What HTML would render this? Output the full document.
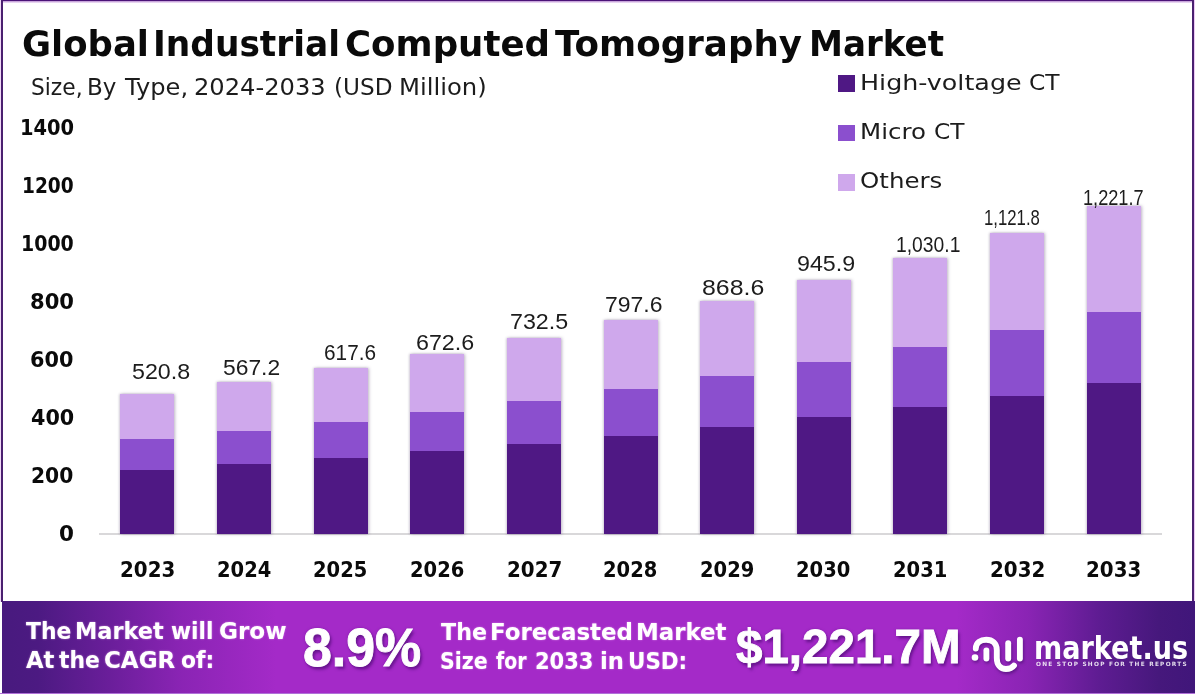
<!DOCTYPE html>
<html lang="en"><head><meta charset="utf-8">
<title>Global Industrial Computed Tomography Market</title>
<style>
html,body{margin:0;padding:0;background:#fff;}
body{width:1195px;height:694px;position:relative;overflow:hidden;font-family:"DejaVu Sans", "Liberation Sans", sans-serif;color:#111;}
.abs{position:absolute;}
.t{position:absolute;white-space:nowrap;line-height:1;}
.b{font-weight:bold;}
.seg{position:absolute;left:0;width:100%;}
.bar{position:absolute;box-shadow:1px 0 3px rgba(90,70,110,.4),-1px 0 2px rgba(90,70,110,.2);}
</style></head><body>

<div class="abs" style="left:0;top:0;width:1195px;height:1.3px;background:#4b1478;"></div>
<div class="abs" style="left:3px;top:1.3px;width:1189px;height:1.4px;background:linear-gradient(180deg,#b98fd0,#f6eafa);"></div>
<div class="abs" style="left:1px;top:0;width:2px;height:602px;background:#4a2070;"></div>
<div class="abs" style="left:1192px;top:0;width:2px;height:602px;background:#4a2070;"></div>
<div class="abs" style="left:1194px;top:0;width:1px;height:602px;background:#ecc8f4;"></div>
<div class="abs" style="left:0;top:0;width:1px;height:602px;background:#f0d8f6;"></div>
<div class="t b" style="left:22.20px;top:26.30px;font-size:35.60px;color:#0a0a0a;transform-origin:0 0;transform:scaleX(0.9958);">Global</div>
<div class="t b" style="left:153.00px;top:26.30px;font-size:35.60px;color:#0a0a0a;transform-origin:0 0;transform:scaleX(0.9666);">Industrial</div>
<div class="t b" style="left:345.40px;top:26.30px;font-size:35.60px;color:#0a0a0a;transform-origin:0 0;transform:scaleX(1.0002);">Computed</div>
<div class="t b" style="left:555.00px;top:26.30px;font-size:35.60px;color:#0a0a0a;transform-origin:0 0;transform:scaleX(1.0024);">Tomography</div>
<div class="t b" style="left:809.12px;top:26.30px;font-size:35.60px;color:#0a0a0a;transform-origin:0 0;transform:scaleX(0.9594);">Market</div>
<div class="t" style="left:30.85px;top:76.30px;font-size:23.00px;color:#1c1c1c;transform-origin:0 0;transform:scaleX(0.9461);">Size,</div>
<div class="t" style="left:87.40px;top:76.30px;font-size:23.00px;color:#1c1c1c;transform-origin:0 0;transform:scaleX(1.0008);">By</div>
<div class="t" style="left:124.75px;top:76.30px;font-size:23.00px;color:#1c1c1c;transform-origin:0 0;transform:scaleX(1.0497);">Type,</div>
<div class="t" style="left:194.15px;top:76.30px;font-size:23.00px;color:#1c1c1c;transform-origin:0 0;transform:scaleX(1.0503);">2024-2033</div>
<div class="t" style="left:333.79px;top:76.30px;font-size:23.00px;color:#1c1c1c;transform-origin:0 0;transform:scaleX(1.0070);">(USD</div>
<div class="t" style="left:398.79px;top:76.30px;font-size:23.00px;color:#1c1c1c;transform-origin:0 0;transform:scaleX(1.0562);">Million)</div>
<div class="abs" style="left:838px;top:75.0px;width:16.5px;height:16.5px;background:#4f1884;"></div>
<div class="t" style="left:859.89px;top:71.60px;font-size:22.00px;color:#1c1c1c;transform-origin:0 0;transform:scaleX(1.1536);">High-voltage</div>
<div class="t" style="left:1029.34px;top:71.60px;font-size:22.00px;color:#1c1c1c;transform-origin:0 0;transform:scaleX(1.0613);">CT</div>
<div class="abs" style="left:838px;top:124.5px;width:16.5px;height:16.5px;background:#8b4fce;"></div>
<div class="t" style="left:859.97px;top:120.60px;font-size:22.00px;color:#1c1c1c;transform-origin:0 0;transform:scaleX(1.1136);">Micro</div>
<div class="t" style="left:933.94px;top:120.60px;font-size:22.00px;color:#1c1c1c;transform-origin:0 0;transform:scaleX(1.0578);">CT</div>
<div class="abs" style="left:838px;top:174.0px;width:16.5px;height:16.5px;background:#cfa8ec;"></div>
<div class="t" style="left:860.49px;top:169.70px;font-size:22.00px;color:#1c1c1c;transform-origin:0 0;transform:scaleX(1.1136);">Others</div>
<div class="t b" style="left:58.88px;top:523.50px;font-size:21.00px;color:#0a0a0a;transform-origin:0 0;transform:scaleX(1.0231);">0</div>
<div class="t b" style="left:31.43px;top:465.57px;font-size:21.00px;color:#0a0a0a;transform-origin:0 0;transform:scaleX(0.9663);">200</div>
<div class="t b" style="left:30.60px;top:407.64px;font-size:21.00px;color:#0a0a0a;transform-origin:0 0;transform:scaleX(0.9856);">400</div>
<div class="t b" style="left:30.41px;top:349.71px;font-size:21.00px;color:#0a0a0a;transform-origin:0 0;transform:scaleX(0.9900);">600</div>
<div class="t b" style="left:29.80px;top:291.78px;font-size:21.00px;color:#0a0a0a;transform-origin:0 0;transform:scaleX(1.0042);">800</div>
<div class="t b" style="left:20.99px;top:233.85px;font-size:21.00px;color:#0a0a0a;transform-origin:0 0;transform:scaleX(0.9027);">1000</div>
<div class="t b" style="left:22.03px;top:175.92px;font-size:21.00px;color:#0a0a0a;transform-origin:0 0;transform:scaleX(0.8847);">1200</div>
<div class="t b" style="left:19.65px;top:117.99px;font-size:21.00px;color:#0a0a0a;transform-origin:0 0;transform:scaleX(0.9259);">1400</div>
<div class="abs" style="left:99px;top:533.4px;width:1063px;height:2px;background:#d9d8da;"></div>
<div class="bar" style="left:120.3px;top:394.3px;width:54px;height:139.7px;"><div class="seg" style="top:0;height:45.5px;background:#cfa8ec;"></div><div class="seg" style="top:45.0px;height:31.0px;background:#8b4fce;"></div><div class="seg" style="top:75.5px;height:64.3px;background:#4f1884;"></div></div>
<div class="t b" style="left:119.97px;top:560.30px;font-size:21.00px;color:#0a0a0a;transform-origin:0 0;transform:scaleX(0.9456);">2023</div>
<div class="t" style="left:132.40px;top:360.80px;font-size:22.00px;color:#1c1c1c;transform-origin:0 0;transform:scaleX(1.0562);font-family:'Liberation Sans',sans-serif;">520.8</div>
<div class="bar" style="left:217.0px;top:381.8px;width:54px;height:152.2px;"><div class="seg" style="top:0;height:49.5px;background:#cfa8ec;"></div><div class="seg" style="top:49.0px;height:33.7px;background:#8b4fce;"></div><div class="seg" style="top:82.2px;height:70.0px;background:#4f1884;"></div></div>
<div class="t b" style="left:216.63px;top:560.30px;font-size:21.00px;color:#0a0a0a;transform-origin:0 0;transform:scaleX(0.9290);">2024</div>
<div class="t" style="left:223.10px;top:356.50px;font-size:22.00px;color:#1c1c1c;transform-origin:0 0;transform:scaleX(1.0380);font-family:'Liberation Sans',sans-serif;">567.2</div>
<div class="bar" style="left:313.6px;top:368.3px;width:54px;height:165.7px;"><div class="seg" style="top:0;height:53.9px;background:#cfa8ec;"></div><div class="seg" style="top:53.4px;height:36.6px;background:#8b4fce;"></div><div class="seg" style="top:89.5px;height:76.2px;background:#4f1884;"></div></div>
<div class="t b" style="left:313.27px;top:560.30px;font-size:21.00px;color:#0a0a0a;transform-origin:0 0;transform:scaleX(0.9290);">2025</div>
<div class="t" style="left:324.25px;top:341.80px;font-size:22.00px;color:#1c1c1c;transform-origin:0 0;transform:scaleX(0.9458);font-family:'Liberation Sans',sans-serif;">617.6</div>
<div class="bar" style="left:410.2px;top:353.5px;width:54px;height:180.5px;"><div class="seg" style="top:0;height:58.6px;background:#cfa8ec;"></div><div class="seg" style="top:58.1px;height:39.8px;background:#8b4fce;"></div><div class="seg" style="top:97.4px;height:83.0px;background:#4f1884;"></div></div>
<div class="t b" style="left:409.91px;top:560.30px;font-size:21.00px;color:#0a0a0a;transform-origin:0 0;transform:scaleX(0.9290);">2026</div>
<div class="t" style="left:416.24px;top:332.40px;font-size:22.00px;color:#1c1c1c;transform-origin:0 0;transform:scaleX(1.0573);font-family:'Liberation Sans',sans-serif;">672.6</div>
<div class="bar" style="left:506.9px;top:337.5px;width:54px;height:196.5px;"><div class="seg" style="top:0;height:63.8px;background:#cfa8ec;"></div><div class="seg" style="top:63.3px;height:43.3px;background:#8b4fce;"></div><div class="seg" style="top:106.1px;height:90.4px;background:#4f1884;"></div></div>
<div class="t b" style="left:506.53px;top:560.30px;font-size:21.00px;color:#0a0a0a;transform-origin:0 0;transform:scaleX(0.9456);">2027</div>
<div class="t" style="left:509.74px;top:311.00px;font-size:22.00px;color:#1c1c1c;transform-origin:0 0;transform:scaleX(1.0573);font-family:'Liberation Sans',sans-serif;">732.5</div>
<div class="bar" style="left:603.5px;top:320.0px;width:54px;height:214.0px;"><div class="seg" style="top:0;height:69.4px;background:#cfa8ec;"></div><div class="seg" style="top:68.9px;height:47.2px;background:#8b4fce;"></div><div class="seg" style="top:115.6px;height:98.4px;background:#4f1884;"></div></div>
<div class="t b" style="left:603.19px;top:560.30px;font-size:21.00px;color:#0a0a0a;transform-origin:0 0;transform:scaleX(0.9290);">2028</div>
<div class="t" style="left:605.16px;top:293.50px;font-size:22.00px;color:#1c1c1c;transform-origin:0 0;transform:scaleX(1.0443);font-family:'Liberation Sans',sans-serif;">797.6</div>
<div class="bar" style="left:700.2px;top:301.0px;width:54px;height:233.0px;"><div class="seg" style="top:0;height:75.5px;background:#cfa8ec;"></div><div class="seg" style="top:75.0px;height:51.3px;background:#8b4fce;"></div><div class="seg" style="top:125.8px;height:107.2px;background:#4f1884;"></div></div>
<div class="t b" style="left:699.83px;top:560.30px;font-size:21.00px;color:#0a0a0a;transform-origin:0 0;transform:scaleX(0.9290);">2029</div>
<div class="t" style="left:701.50px;top:276.50px;font-size:22.00px;color:#1c1c1c;transform-origin:0 0;transform:scaleX(1.1310);font-family:'Liberation Sans',sans-serif;">868.6</div>
<div class="bar" style="left:796.8px;top:280.2px;width:54px;height:253.8px;"><div class="seg" style="top:0;height:82.2px;background:#cfa8ec;"></div><div class="seg" style="top:81.7px;height:55.8px;background:#8b4fce;"></div><div class="seg" style="top:137.0px;height:116.7px;background:#4f1884;"></div></div>
<div class="t b" style="left:796.47px;top:560.30px;font-size:21.00px;color:#0a0a0a;transform-origin:0 0;transform:scaleX(0.9290);">2030</div>
<div class="t" style="left:796.94px;top:253.30px;font-size:22.00px;color:#1c1c1c;transform-origin:0 0;transform:scaleX(1.0573);font-family:'Liberation Sans',sans-serif;">945.9</div>
<div class="bar" style="left:893.4px;top:257.6px;width:54px;height:276.4px;"><div class="seg" style="top:0;height:89.5px;background:#cfa8ec;"></div><div class="seg" style="top:89.0px;height:60.7px;background:#8b4fce;"></div><div class="seg" style="top:149.2px;height:127.1px;background:#4f1884;"></div></div>
<div class="t b" style="left:893.11px;top:560.30px;font-size:21.00px;color:#0a0a0a;transform-origin:0 0;transform:scaleX(0.9290);">2031</div>
<div class="t" style="left:895.52px;top:234.20px;font-size:22.00px;color:#1c1c1c;transform-origin:0 0;transform:scaleX(0.8771);font-family:'Liberation Sans',sans-serif;">1,030.1</div>
<div class="bar" style="left:990.1px;top:233.0px;width:54px;height:301.0px;"><div class="seg" style="top:0;height:97.4px;background:#cfa8ec;"></div><div class="seg" style="top:96.9px;height:66.1px;background:#8b4fce;"></div><div class="seg" style="top:162.5px;height:138.5px;background:#4f1884;"></div></div>
<div class="t b" style="left:989.73px;top:560.30px;font-size:21.00px;color:#0a0a0a;transform-origin:0 0;transform:scaleX(0.9456);">2032</div>
<div class="t" style="left:984.34px;top:206.70px;font-size:22.00px;color:#1c1c1c;transform-origin:0 0;transform:scaleX(0.7607);font-family:'Liberation Sans',sans-serif;">1,121.8</div>
<div class="bar" style="left:1086.7px;top:206.2px;width:54px;height:327.8px;"><div class="seg" style="top:0;height:106.0px;background:#cfa8ec;"></div><div class="seg" style="top:105.5px;height:72.0px;background:#8b4fce;"></div><div class="seg" style="top:177.0px;height:150.8px;background:#4f1884;"></div></div>
<div class="t b" style="left:1086.37px;top:560.30px;font-size:21.00px;color:#0a0a0a;transform-origin:0 0;transform:scaleX(0.9456);">2033</div>
<div class="t" style="left:1082.67px;top:186.60px;font-size:22.00px;color:#1c1c1c;transform-origin:0 0;transform:scaleX(0.8259);font-family:'Liberation Sans',sans-serif;">1,221.7</div>
<div class="abs" style="left:2px;top:601px;width:1193px;height:92px;background:linear-gradient(90deg,#481a7e 0%,#4c1a82 3%,#6a1e9a 9%,#8a24b4 15%,#a42ac8 23%,#a42ac8 80%,#8a24b4 86%,#5e1c92 92%,#46187c 97%,#40167a 100%);"></div>
<div class="abs" style="left:0;top:693px;width:1195px;height:1px;background:#b070d8;"></div>
<div class="t b" style="left:25.80px;top:618.75px;font-size:23.30px;color:#fff;transform-origin:0 0;transform:scaleX(0.9373);text-shadow:0 0 2px rgba(255,200,255,.6);">The</div>
<div class="t b" style="left:74.57px;top:618.75px;font-size:23.30px;color:#fff;transform-origin:0 0;transform:scaleX(0.9627);text-shadow:0 0 2px rgba(255,200,255,.6);">Market</div>
<div class="t b" style="left:170.70px;top:618.75px;font-size:23.30px;color:#fff;transform-origin:0 0;transform:scaleX(0.9305);text-shadow:0 0 2px rgba(255,200,255,.6);">will</div>
<div class="t b" style="left:218.61px;top:618.75px;font-size:23.30px;color:#fff;transform-origin:0 0;transform:scaleX(0.9922);text-shadow:0 0 2px rgba(255,200,255,.6);">Grow</div>
<div class="t b" style="left:25.60px;top:647.65px;font-size:23.30px;color:#fff;transform-origin:0 0;transform:scaleX(0.9749);text-shadow:0 0 2px rgba(255,200,255,.6);">At</div>
<div class="t b" style="left:59.00px;top:647.65px;font-size:23.30px;color:#fff;transform-origin:0 0;transform:scaleX(0.9386);text-shadow:0 0 2px rgba(255,200,255,.6);">the</div>
<div class="t b" style="left:104.41px;top:647.65px;font-size:23.30px;color:#fff;transform-origin:0 0;transform:scaleX(0.9867);text-shadow:0 0 2px rgba(255,200,255,.6);">CAGR</div>
<div class="t b" style="left:181.06px;top:647.65px;font-size:23.30px;color:#fff;transform-origin:0 0;transform:scaleX(0.9365);text-shadow:0 0 2px rgba(255,200,255,.6);">of:</div>
<div class="t b" style="left:302.83px;top:620.75px;font-size:53.50px;color:#fff;transform-origin:0 0;transform:scaleX(0.9695);font-family:'Liberation Sans',sans-serif;-webkit-text-stroke:0.9px #fff;text-shadow:0 0 3px rgba(80,10,120,.55),2px 3px 3px rgba(70,10,110,.6);">8.9%</div>
<div class="t b" style="left:440.50px;top:620.15px;font-size:23.30px;color:#fff;transform-origin:0 0;transform:scaleX(0.9520);text-shadow:0 0 2px rgba(255,200,255,.6);">The</div>
<div class="t b" style="left:489.53px;top:620.15px;font-size:23.30px;color:#fff;transform-origin:0 0;transform:scaleX(0.9845);text-shadow:0 0 2px rgba(255,200,255,.6);">Forecasted</div>
<div class="t b" style="left:635.94px;top:620.15px;font-size:23.30px;color:#fff;transform-origin:0 0;transform:scaleX(0.9816);text-shadow:0 0 2px rgba(255,200,255,.6);">Market</div>
<div class="t b" style="left:439.62px;top:649.45px;font-size:23.30px;color:#fff;transform-origin:0 0;transform:scaleX(0.8791);text-shadow:0 0 2px rgba(255,200,255,.6);">Size</div>
<div class="t b" style="left:495.80px;top:649.45px;font-size:23.30px;color:#fff;transform-origin:0 0;transform:scaleX(0.8102);text-shadow:0 0 2px rgba(255,200,255,.6);">for</div>
<div class="t b" style="left:534.50px;top:649.45px;font-size:23.30px;color:#fff;transform-origin:0 0;transform:scaleX(0.9021);text-shadow:0 0 2px rgba(255,200,255,.6);">2033</div>
<div class="t b" style="left:599.73px;top:649.45px;font-size:23.30px;color:#fff;transform-origin:0 0;transform:scaleX(0.9734);text-shadow:0 0 2px rgba(255,200,255,.6);">in</div>
<div class="t b" style="left:627.76px;top:649.45px;font-size:23.30px;color:#fff;transform-origin:0 0;transform:scaleX(0.9195);text-shadow:0 0 2px rgba(255,200,255,.6);">USD:</div>
<div class="t b" style="left:736.30px;top:621.95px;font-size:48.50px;color:#fff;transform-origin:0 0;transform:scaleX(0.9798);font-family:'Liberation Sans',sans-serif;-webkit-text-stroke:0.9px #fff;text-shadow:0 0 3px rgba(80,10,120,.55),2px 3px 3px rgba(70,10,110,.6);">$1,221.7M</div>
<svg class="abs" style="left:965px;top:625px;filter:drop-shadow(1px 2px 1.5px rgba(60,10,100,.55));" width="70" height="55" viewBox="965 625 70 55">
<g fill="none" stroke="#fff" stroke-width="5.9" stroke-linecap="round" stroke-linejoin="round">
<path d="M975.8 648.5 C976 642.5 980.5 639.8 986.2 639.8 C992.5 639.8 996.8 643.5 996.8 650 L996.8 658 C996.8 665 1000.5 669 1006 669 C1009.5 669 1012.5 667.5 1014 665.5"/>
<path d="M986.4 650.5 L986.4 658.6"/>
<path d="M1008.2 643.3 L1008.2 658.6"/>
<path d="M1019.9 639.7 L1019.9 658.6"/>
</g>
<circle cx="975" cy="657.5" r="3.3" fill="#fff"/>
</svg>
<div class="t b" style="left:1033.81px;top:631.60px;font-size:32.00px;color:#fff;transform-origin:0 0;transform:scaleX(0.8460);">market.us</div>
<div class="t b" style="left:1036.00px;top:662.40px;font-size:5.80px;letter-spacing:1.260px;color:rgba(255,255,255,.85);">ONE STOP SHOP FOR THE REPORTS</div>
</body></html>
